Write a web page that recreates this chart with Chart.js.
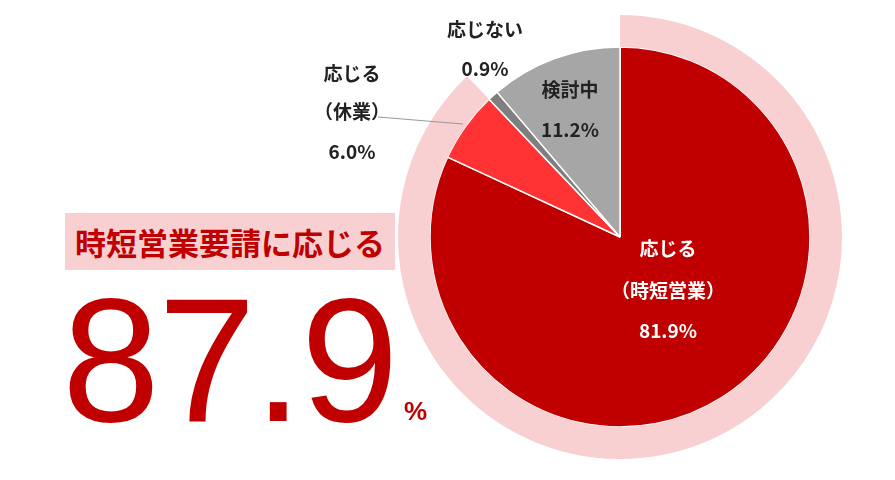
<!DOCTYPE html><html><head><meta charset="utf-8">
<script src="https://cdn.jsdelivr.net/npm/chart.js@4"></script>
<style>
body{margin:0;width:895px;height:480px;background:#fff;position:relative;overflow:hidden;font-family:"Noto Sans CJK JP","Noto Sans",sans-serif}
.t{position:absolute;transform:translate(-50%,-50%);white-space:nowrap;font-weight:bold;font-size:19px;color:#222;text-align:center}
.w{color:#fff}
#box{position:absolute;left:65px;top:213px;width:330px;height:57px;background:#F9D0D2;color:#C00000;font-weight:bold;font-size:31px;line-height:57px;text-align:center}
#big{position:absolute;left:62px;top:272px;font-family:"Liberation Sans",Arial,sans-serif;font-size:176px;color:#C00000;line-height:1;letter-spacing:-2px}
#pct{position:absolute;left:404px;top:396px;font-family:"Liberation Sans",Arial,sans-serif;font-size:26px;color:#C00000;font-weight:bold}
#wrap{position:absolute;left:390px;top:7px;width:460px;height:460px}
svg{position:absolute;left:0;top:0}
</style></head><body>
<div id="wrap"><canvas id="c" width="460" height="460"></canvas></div>
<div id="box">時短営業要請に応じる</div>
<div id="big">87.9</div>
<div id="pct">%</div>
<svg width="895" height="480"><line x1="378" y1="117" x2="463" y2="124" stroke="#999" stroke-width="1.2"/></svg>
<div class="t w" style="left:668px;top:247px">応じる</div>
<div class="t w" style="left:668px;top:289px">（時短営業）</div>
<div class="t w" style="left:668px;top:329px">81.9%</div>
<div class="t" style="left:570px;top:88px">検討中</div>
<div class="t" style="left:570px;top:128px">11.2%</div>
<div class="t" style="left:485px;top:28px">応じない</div>
<div class="t" style="left:485px;top:67px">0.9%</div>
<div class="t" style="left:352px;top:72px">応じる</div>
<div class="t" style="left:352px;top:110px">（休業）</div>
<div class="t" style="left:352px;top:150px">6.0%</div>
<script>
const categories=["応じる（時短営業）","応じる（休業）","応じない","検討中"];
const values=[81.9,6.0,0.9,11.2];
const ringValues=[87.9,12.1];
new Chart(document.getElementById('c'),{type:'pie',
data:{labels:categories,datasets:[
{data:ringValues,backgroundColor:['#F9D0D2','rgba(0,0,0,0)'],borderWidth:0,weight:32},
{data:values,backgroundColor:['#C00000','#FF3333','#7F7F7F','#A6A6A6'],borderColor:'#fff',borderWidth:1.5,weight:190}
]},
options:{responsive:false,animation:false,layout:{padding:8},plugins:{legend:{display:false},tooltip:{enabled:false}}}});
</script></body></html>
